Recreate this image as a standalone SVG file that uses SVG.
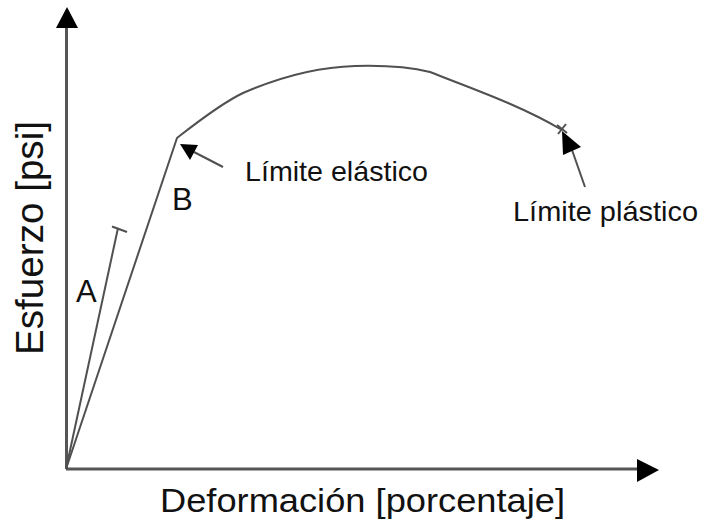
<svg xmlns="http://www.w3.org/2000/svg" width="703" height="525" viewBox="0 0 703 525">
<style>
.axis{stroke:#555;stroke-width:3;fill:none}
.curve{stroke:#505050;stroke-width:2;fill:none;stroke-linejoin:round}
.ptr{stroke:#505050;stroke-width:2;fill:none}
.lbl{font-family:"Liberation Sans",Arial,sans-serif;fill:#111}
</style>
<rect width="703" height="525" fill="#fff"/>
<g id="axes">
<line class="axis" x1="66.5" y1="469" x2="66.5" y2="26"/>
<path d="M56,28 L67,7 L78,28 Z" fill="#000"/>
<line class="axis" x1="66" y1="469" x2="640" y2="469"/>
<path d="M637,459 L659,470 L637,482 Z" fill="#000"/>
</g>
<g id="connectors">
<polyline class="curve" points="66,469 118,228"/>
<line class="curve" x1="112" y1="226.5" x2="127" y2="232"/>
<path class="curve" d="M66,469 L177,138 C195,124 220,104 243,93 C280,77 318,67 355,66 C390,65 410,67 430,72 C470,88 520,105 562,130"/>
<line class="curve" x1="557" y1="125" x2="567" y2="133" stroke-width="1.2"/>
<line class="curve" x1="558" y1="134" x2="566" y2="124" stroke-width="1.2"/>
<line class="ptr" x1="223" y1="167" x2="194" y2="152"/>
<path d="M180,144 L198,145 L190,160 Z" fill="#000"/>
<line class="ptr" x1="585" y1="187" x2="572" y2="150"/>
<path d="M562,131 L581,147 L563,155 Z" fill="#000"/>
</g>
<g id="label-A"><text class="lbl" x="76" y="302" font-size="31">A</text></g>
<g id="label-B"><text class="lbl" x="172" y="210" font-size="31">B</text></g>
<g id="label-elastico"><text class="lbl" x="245" y="181" font-size="28" textLength="183" lengthAdjust="spacingAndGlyphs">Límite elástico</text></g>
<g id="label-plastico"><text class="lbl" x="513" y="221" font-size="28" textLength="185" lengthAdjust="spacingAndGlyphs">Límite plástico</text></g>
<g id="label-x"><text class="lbl" x="160" y="512" font-size="34" textLength="405" lengthAdjust="spacingAndGlyphs">Deformación [porcentaje]</text></g>
<g id="label-y"><text class="lbl" transform="translate(43,355) rotate(-90)" x="0" y="0" font-size="38" textLength="234" lengthAdjust="spacingAndGlyphs">Esfuerzo [psi]</text></g>
</svg>
